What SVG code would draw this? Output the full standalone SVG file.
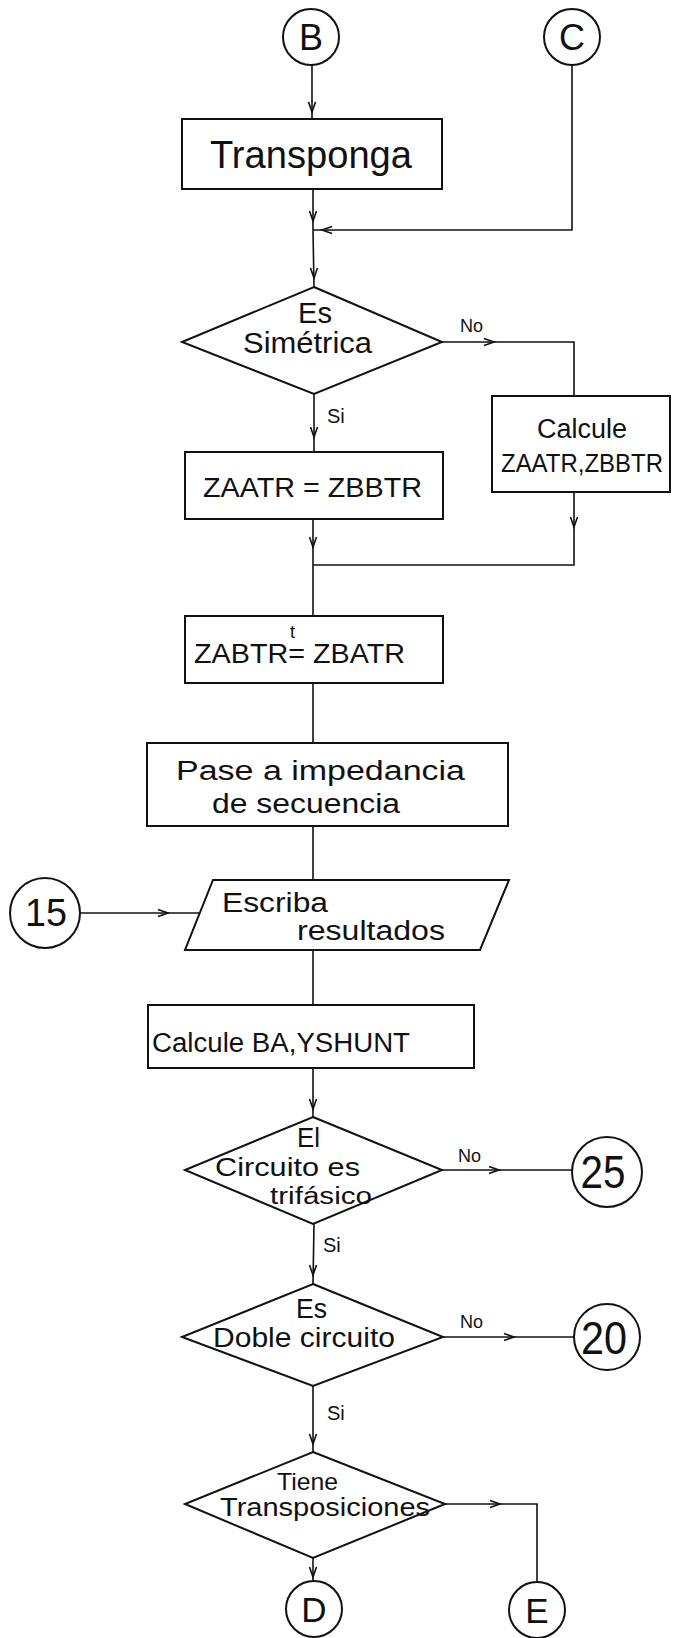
<svg xmlns="http://www.w3.org/2000/svg" xmlns:xlink="http://www.w3.org/1999/xlink" width="678" height="1638" viewBox="0 0 678 1638">
<style>
.shape{fill:none;stroke:#111;stroke-width:2}
.line{fill:none;stroke:#111;stroke-width:1.6}
.head{fill:none;stroke:#111;stroke-width:1.6}
text{font-family:"Liberation Sans","DejaVu Sans",sans-serif;fill:#111}
.lbl{font-size:27px}
.big{font-size:38px}
.sm{font-size:18px}
</style>
<defs>
<path id="ah" class="head" d="M-10,-3.5 L0,0 L-10,3.5"/>
</defs>
<rect width="678" height="1638" fill="#fff"/>
<g id="connectors">
<path class="line" d="M312,65 L312,119"/>
<use xlink:href="#ah" href="#ah" transform="translate(312,112) rotate(90)"/>
<path class="line" d="M313,189 L313,230 L314,287"/>
<use xlink:href="#ah" href="#ah" transform="translate(313,221) rotate(90)"/>
<use xlink:href="#ah" href="#ah" transform="translate(314,278) rotate(90)"/>
<path class="line" d="M572,65 L572,230 L313,230"/>
<use xlink:href="#ah" href="#ah" transform="translate(322,230) rotate(180)"/>
<path class="line" d="M442,342 L574,342 L574,396"/>
<use xlink:href="#ah" href="#ah" transform="translate(494,342)"/>
<path class="line" d="M314,394 L314,452"/>
<use xlink:href="#ah" href="#ah" transform="translate(314,437) rotate(90)"/>
<path class="line" d="M313,519 L313,565"/>
<use xlink:href="#ah" href="#ah" transform="translate(313,547) rotate(90)"/>
<path class="line" d="M574,492 L574,565 L313,565"/>
<use xlink:href="#ah" href="#ah" transform="translate(574,527) rotate(90)"/>
<path class="line" d="M313,565 L313,616"/>
<path class="line" d="M313,683 L313,743"/>
<path class="line" d="M313,826 L313,880"/>
<path class="line" d="M80,913 L199,913"/>
<use xlink:href="#ah" href="#ah" transform="translate(168,913)"/>
<path class="line" d="M313,950 L313,1005"/>
<path class="line" d="M313,1068 L313,1117"/>
<use xlink:href="#ah" href="#ah" transform="translate(313,1109) rotate(90)"/>
<path class="line" d="M442,1170 L572,1170"/>
<use xlink:href="#ah" href="#ah" transform="translate(499,1170)"/>
<path class="line" d="M314,1224 L313,1284"/>
<use xlink:href="#ah" href="#ah" transform="translate(313,1275) rotate(90)"/>
<path class="line" d="M443,1337 L574,1337"/>
<use xlink:href="#ah" href="#ah" transform="translate(514,1337)"/>
<path class="line" d="M313,1386 L313,1452"/>
<use xlink:href="#ah" href="#ah" transform="translate(313,1444) rotate(90)"/>
<path class="line" d="M445,1504 L537,1504 L537,1582"/>
<use xlink:href="#ah" href="#ah" transform="translate(500,1504)"/>
<path class="line" d="M313,1558 L313,1581"/>
<use xlink:href="#ah" href="#ah" transform="translate(313,1577) rotate(90)"/>
</g>
<g id="node-B">
<circle class="shape" cx="311" cy="37" r="28"/>
<text x="311" y="50" font-size="36" text-anchor="middle">B</text>
</g>
<g id="node-C">
<circle class="shape" cx="572" cy="37" r="28"/>
<text x="572" y="50" font-size="36" text-anchor="middle">C</text>
</g>
<g id="node-transponga">
<rect class="shape" x="182" y="119" width="260" height="70"/>
<text class="big" x="210" y="168" textLength="202" lengthAdjust="spacingAndGlyphs">Transponga</text>
</g>
<g id="node-simetrica">
<polygon class="shape" points="314,287 442,342 314,394 182,342"/>
<text x="298" y="323" font-size="29" textLength="34" lengthAdjust="spacingAndGlyphs">Es</text>
<text x="243" y="353" font-size="30" textLength="129" lengthAdjust="spacingAndGlyphs">Simétrica</text>
<text class="sm" x="460" y="332">No</text>
<text x="327" y="423" font-size="20">Si</text>
</g>
<g id="node-calcule-zaatr">
<rect class="shape" x="492" y="396" width="178" height="96"/>
<text class="lbl" x="537" y="438" textLength="90" lengthAdjust="spacingAndGlyphs">Calcule</text>
<text x="501" y="472" font-size="26" textLength="162" lengthAdjust="spacingAndGlyphs">ZAATR,ZBBTR</text>
</g>
<g id="node-zaatr">
<rect class="shape" x="185" y="452" width="258" height="67"/>
<text class="lbl" x="203" y="497" textLength="219" lengthAdjust="spacingAndGlyphs">ZAATR = ZBBTR</text>
</g>
<g id="node-zabtr">
<rect class="shape" x="185" y="616" width="258" height="67"/>
<text class="lbl" x="194" y="663" textLength="211" lengthAdjust="spacingAndGlyphs">ZABTR= ZBATR</text>
<text x="290" y="638" font-size="18">t</text>
</g>
<g id="node-pase">
<rect class="shape" x="147" y="743" width="361" height="83"/>
<text class="lbl" x="176" y="780" textLength="289" lengthAdjust="spacingAndGlyphs">Pase  a  impedancia</text>
<text class="lbl" x="212" y="813" textLength="188" lengthAdjust="spacingAndGlyphs">de  secuencia</text>
</g>
<g id="node-15">
<circle class="shape" cx="45" cy="913" r="35"/>
<text x="46" y="926" font-size="38" text-anchor="middle" textLength="42" lengthAdjust="spacingAndGlyphs">15</text>
</g>
<g id="node-escriba">
<polygon class="shape" points="213,880 509,880 480,950 185,950"/>
<text class="lbl" x="222" y="912" textLength="106" lengthAdjust="spacingAndGlyphs">Escriba</text>
<text class="lbl" x="297" y="940" textLength="148" lengthAdjust="spacingAndGlyphs">resultados</text>
</g>
<g id="node-bayshunt">
<rect class="shape" x="148" y="1005" width="326" height="63"/>
<text class="lbl" x="152" y="1052" textLength="258" lengthAdjust="spacingAndGlyphs">Calcule BA,YSHUNT</text>
</g>
<g id="node-trifasico">
<polygon class="shape" points="313,1117 442,1170 313,1224 185,1170"/>
<text class="lbl" x="297" y="1147" textLength="23" lengthAdjust="spacingAndGlyphs">El</text>
<text x="215" y="1176" font-size="25" textLength="145" lengthAdjust="spacingAndGlyphs">Circuito es</text>
<text x="270" y="1204" font-size="23" textLength="102" lengthAdjust="spacingAndGlyphs">trifásico</text>
<text class="sm" x="458" y="1162">No</text>
<text x="323" y="1252" font-size="20">Si</text>
</g>
<g id="node-25">
<circle class="shape" cx="607" cy="1172" r="35"/>
<text x="603" y="1188" font-size="46" text-anchor="middle" textLength="45" lengthAdjust="spacingAndGlyphs">25</text>
</g>
<g id="node-doble">
<polygon class="shape" points="313,1284 443,1337 313,1386 182,1337"/>
<text class="lbl" x="296" y="1318" textLength="31" lengthAdjust="spacingAndGlyphs">Es</text>
<text class="lbl" x="213" y="1347" textLength="182" lengthAdjust="spacingAndGlyphs">Doble circuito</text>
<text class="sm" x="460" y="1328">No</text>
<text x="327" y="1420" font-size="20">Si</text>
</g>
<g id="node-20">
<circle class="shape" cx="607" cy="1337" r="33"/>
<text x="604" y="1354" font-size="46" text-anchor="middle" textLength="46" lengthAdjust="spacingAndGlyphs">20</text>
</g>
<g id="node-transposiciones">
<polygon class="shape" points="313,1452 445,1504 313,1558 185,1504"/>
<text x="277" y="1490" font-size="24" textLength="61" lengthAdjust="spacingAndGlyphs">Tiene</text>
<text x="220" y="1516" font-size="25" textLength="210" lengthAdjust="spacingAndGlyphs">Transposiciones</text>
</g>
<g id="node-D">
<circle class="shape" cx="314" cy="1609" r="28"/>
<text x="314" y="1622" font-size="35" text-anchor="middle">D</text>
</g>
<g id="node-E">
<circle class="shape" cx="537" cy="1610" r="28"/>
<text x="537" y="1623" font-size="35" text-anchor="middle">E</text>
</g>
</svg>
